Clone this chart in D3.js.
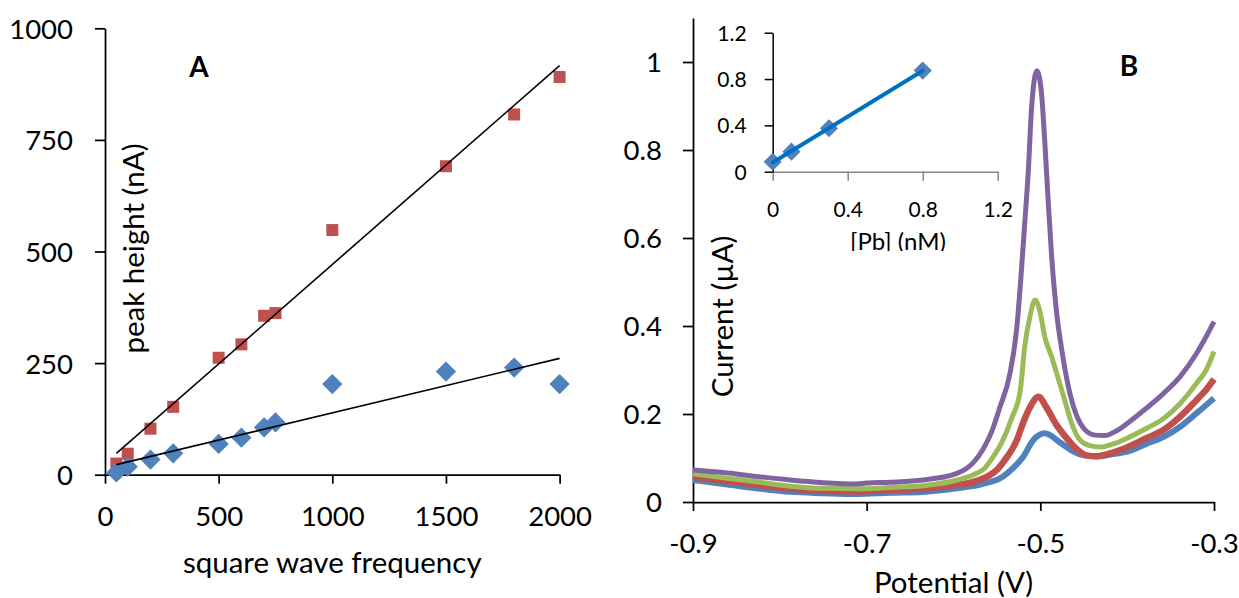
<!DOCTYPE html>
<html>
<head>
<meta charset="utf-8">
<script src="https://cdn.jsdelivr.net/npm/d3@7"></script>
<style>
  html, body { margin: 0; padding: 0; background: #fff; }
  svg { display: block; }
</style>
</head>
<body>
<div id="chart"></div>
<script>
// Panel A - peak height (nA) vs square wave frequency
const frequencies = [50, 100, 200, 300, 500, 600, 700, 750, 1000, 1500, 1800, 2000];
const squarePeaks = [25, 47, 103, 152, 262, 292, 356, 362, 548, 691, 807, 891];
const diamondPeaks = [5, 18, 34, 48, 69, 83, 106, 117, 203, 231, 240, 203];
const freqTicks = [0, 500, 1000, 1500, 2000];
const heightTicks = [0, 250, 500, 750, 1000];

// Panel B - voltammograms, [potential (V), current (uA)]
const scanBlue = [[-0.900, 0.050], [-0.865, 0.041], [-0.827, 0.031], [-0.788, 0.023], [-0.750, 0.020], [-0.712, 0.018], [-0.673, 0.021], [-0.635, 0.023], [-0.596, 0.031], [-0.566, 0.041], [-0.543, 0.058], [-0.530, 0.080], [-0.520, 0.102], [-0.508, 0.141], [-0.495, 0.156], [-0.477, 0.135], [-0.462, 0.115], [-0.450, 0.106], [-0.435, 0.104], [-0.416, 0.109], [-0.397, 0.116], [-0.378, 0.132], [-0.358, 0.148], [-0.339, 0.171], [-0.320, 0.202], [-0.300, 0.236]];
const scanRed = [[-0.900, 0.058], [-0.865, 0.048], [-0.827, 0.039], [-0.788, 0.030], [-0.750, 0.025], [-0.712, 0.024], [-0.673, 0.027], [-0.635, 0.030], [-0.596, 0.039], [-0.577, 0.046], [-0.560, 0.059], [-0.550, 0.073], [-0.541, 0.095], [-0.527, 0.141], [-0.520, 0.179], [-0.512, 0.215], [-0.502, 0.239], [-0.493, 0.215], [-0.482, 0.177], [-0.470, 0.146], [-0.458, 0.120], [-0.447, 0.106], [-0.435, 0.104], [-0.416, 0.113], [-0.397, 0.127], [-0.378, 0.145], [-0.358, 0.164], [-0.339, 0.194], [-0.320, 0.232], [-0.309, 0.255], [-0.300, 0.279]];
const scanGreen = [[-0.900, 0.064], [-0.865, 0.055], [-0.827, 0.046], [-0.788, 0.036], [-0.750, 0.031], [-0.712, 0.030], [-0.673, 0.033], [-0.635, 0.037], [-0.596, 0.050], [-0.577, 0.062], [-0.565, 0.075], [-0.556, 0.098], [-0.545, 0.133], [-0.533, 0.190], [-0.523, 0.255], [-0.518, 0.353], [-0.512, 0.421], [-0.506, 0.459], [-0.500, 0.429], [-0.495, 0.376], [-0.487, 0.330], [-0.480, 0.285], [-0.472, 0.232], [-0.464, 0.179], [-0.454, 0.140], [-0.443, 0.128], [-0.431, 0.125], [-0.416, 0.132], [-0.397, 0.148], [-0.378, 0.167], [-0.358, 0.190], [-0.339, 0.224], [-0.320, 0.270], [-0.309, 0.300], [-0.300, 0.342]];
const scanPurple = [[-0.900, 0.073], [-0.865, 0.067], [-0.827, 0.058], [-0.788, 0.050], [-0.750, 0.044], [-0.712, 0.041], [-0.700, 0.043], [-0.673, 0.045], [-0.635, 0.050], [-0.596, 0.065], [-0.577, 0.090], [-0.566, 0.120], [-0.556, 0.160], [-0.547, 0.213], [-0.535, 0.292], [-0.527, 0.398], [-0.522, 0.520], [-0.518, 0.633], [-0.514, 0.747], [-0.510, 0.898], [-0.504, 0.980], [-0.499, 0.936], [-0.495, 0.823], [-0.491, 0.686], [-0.487, 0.558], [-0.482, 0.444], [-0.474, 0.330], [-0.466, 0.247], [-0.458, 0.195], [-0.449, 0.165], [-0.437, 0.152], [-0.426, 0.151], [-0.412, 0.162], [-0.397, 0.183], [-0.378, 0.213], [-0.358, 0.247], [-0.339, 0.285], [-0.320, 0.338], [-0.309, 0.376], [-0.300, 0.410]];
const potentialTicks = [-0.9, -0.7, -0.5, -0.3];
const currentTicks = [0, 0.2, 0.4, 0.6, 0.8, 1];

// Inset - calibration
const pbConc = [0, 0.1, 0.3, 0.8];
const pbPeak = [0.086, 0.173, 0.375, 0.873];
const insetTicks = [0, 0.4, 0.8, 1.2];

class PeakFigure {
    constructor() {
        const attrs = {
            container: '#chart',
            svgWidth: 1239,
            svgHeight: 598,
            fontFamily: 'Lato, "Open Sans", sans-serif',
            tickFontSize: 27.5,
            titleFontSize: 29.5,
            insetTickFontSize: 21,
            insetTitleFontSize: 24,
            red: '#C0504D',
            blue: '#4F81BD',
            green: '#9BBB59',
            purple: '#8064A2',
            insetLine: '#0070C0'
        };

        this.getState = () => attrs;
        this.setState = (d) => Object.assign(attrs, d);
    }

    render() {
        this.drawSvg();
        this.drawPanelA();
        this.drawPanelB();
        this.drawInset();
        return this;
    }

    drawSvg() {
        const { container, svgWidth, svgHeight } = this.getState();
        const svg = d3.select(container)
            .append('svg')
            .attr('width', svgWidth)
            .attr('height', svgHeight);
        this.setState({ svg });
    }

    // least squares fit, used for the trend lines
    fit(xs, ys) {
        const mx = d3.mean(xs), my = d3.mean(ys);
        let sxy = 0, sxx = 0;
        xs.forEach((x, i) => {
            sxy += (x - mx) * (ys[i] - my);
            sxx += (x - mx) * (x - mx);
        });
        const slope = sxy / sxx;
        return { slope, intercept: my - slope * mx };
    }

    styleAxis(g, fontSize, width) {
        const { fontFamily } = this.getState();
        g.attr('color', '#000')
            .attr('font-family', fontFamily)
            .attr('font-size', fontSize);
        g.selectAll('path, line').attr('stroke-width', width);
        g.selectAll('text').attr('fill', '#000');
        return g;
    }

    // excel style diamond = square turned 45 degrees
    diamond(size) {
        return d3.symbol().type(d3.symbolSquare).size(size)();
    }

    drawPanelA() {
        const { svg, fontFamily, tickFontSize, titleFontSize, red, blue } = this.getState();

        const x = d3.scaleLinear().domain([0, 2000]).range([105, 559.6]);
        const y = d3.scaleLinear().domain([0, 1000]).range([474.7, 28.3]);

        const chart = svg.append('g').attr('class', 'panel-a');

        const yAxis = chart.append('g')
            .attr('transform', `translate(${x(0)},0)`)
            .call(d3.axisLeft(y).tickValues(heightTicks).tickSize(10).tickSizeOuter(0).tickPadding(22).tickFormat(d => String(d)));
        this.styleAxis(yAxis, tickFontSize, 1.75);
        yAxis.selectAll('text').attr('dy', '0.36em');

        const xAxis = chart.append('g')
            .attr('transform', `translate(0,${y(0)})`)
            .call(d3.axisBottom(x).tickValues(freqTicks).tickSize(9).tickSizeOuter(0).tickPadding(23).tickFormat(d => String(d)));
        this.styleAxis(xAxis, tickFontSize, 1.75);

        chart.selectAll('.sq')
            .data(frequencies)
            .enter()
            .append('path')
            .attr('class', 'sq')
            .attr('d', d3.symbol().type(d3.symbolSquare).size(144)())
            .attr('transform', (d, i) => `translate(${x(d)},${y(squarePeaks[i])})`)
            .attr('fill', red);

        chart.selectAll('.dm')
            .data(frequencies)
            .enter()
            .append('path')
            .attr('class', 'dm')
            .attr('d', this.diamond(205))
            .attr('transform', (d, i) => `translate(${x(d)},${y(diamondPeaks[i])}) rotate(45)`)
            .attr('fill', blue);

        // trend lines, drawn over the markers
        const xMin = d3.min(frequencies), xMax = d3.max(frequencies);
        [squarePeaks, diamondPeaks].forEach(vals => {
            const f = this.fit(frequencies, vals);
            chart.append('line')
                .attr('x1', x(xMin)).attr('y1', y(f.intercept + f.slope * xMin))
                .attr('x2', x(xMax)).attr('y2', y(f.intercept + f.slope * xMax))
                .attr('stroke', '#000')
                .attr('stroke-width', 1.6);
        });

        chart.append('text')
            .attr('x', (x.range()[0] + x.range()[1]) / 2)
            .attr('y', 573)
            .attr('text-anchor', 'middle')
            .attr('font-family', fontFamily)
            .attr('font-size', titleFontSize)
            .text('square wave frequency');

        chart.append('text')
            .attr('transform', 'translate(144,248.5) rotate(-90)')
            .attr('text-anchor', 'middle')
            .attr('font-family', fontFamily)
            .attr('font-size', titleFontSize)
            .text('peak height (nA)');

        chart.append('text')
            .attr('x', 199)
            .attr('y', 76.7)
            .attr('text-anchor', 'middle')
            .attr('font-family', fontFamily)
            .attr('font-weight', 'bold')
            .attr('font-size', 28)
            .text('A');
    }

    drawPanelB() {
        const { svg, fontFamily, tickFontSize, titleFontSize, red, blue, green, purple } = this.getState();

        const x = d3.scaleLinear().domain([-0.9, -0.3]).range([693, 1214]);
        const y = d3.scaleLinear().domain([0, 1.1]).range([502, 18]);

        const chart = svg.append('g').attr('class', 'panel-b');

        const yAxis = chart.append('g')
            .attr('transform', `translate(${x(-0.9)},0)`)
            .call(d3.axisLeft(y).tickValues(currentTicks).tickSize(10).tickSizeOuter(0).tickPadding(21).tickFormat(d => String(d)));
        this.styleAxis(yAxis, tickFontSize, 1.75);
        yAxis.selectAll('text').attr('dy', '0.36em');

        const xAxis = chart.append('g')
            .attr('transform', `translate(0,${y(0)})`)
            .call(d3.axisBottom(x).tickValues(potentialTicks).tickSize(9).tickSizeOuter(0).tickPadding(22).tickFormat(d => String(d)));
        this.styleAxis(xAxis, tickFontSize, 1.75);

        const line = d3.line()
            .x(d => x(d[0]))
            .y(d => y(d[1]))
            .curve(d3.curveMonotoneX);

        const scans = [
            { data: scanBlue, color: blue, width: 6 },
            { data: scanRed, color: red, width: 6.5 },
            { data: scanGreen, color: green, width: 5 },
            { data: scanPurple, color: purple, width: 5 }
        ];

        chart.selectAll('.scan')
            .data(scans)
            .enter()
            .append('path')
            .attr('class', 'scan')
            .attr('d', d => line(d.data))
            .attr('fill', 'none')
            .attr('stroke', d => d.color)
            .attr('stroke-width', d => d.width)
            .attr('stroke-linejoin', 'round');

        chart.append('text')
            .attr('x', (x.range()[0] + x.range()[1]) / 2)
            .attr('y', 593)
            .attr('text-anchor', 'middle')
            .attr('font-family', fontFamily)
            .attr('font-size', titleFontSize)
            .text('Potential (V)');

        chart.append('text')
            .attr('transform', 'translate(732.5,316.5) rotate(-90)')
            .attr('text-anchor', 'middle')
            .attr('font-family', fontFamily)
            .attr('font-size', titleFontSize)
            .text('Current (µA)');

        chart.append('text')
            .attr('x', 1129)
            .attr('y', 76)
            .attr('text-anchor', 'middle')
            .attr('font-family', fontFamily)
            .attr('font-weight', 'bold')
            .attr('font-size', 28)
            .text('B');
    }

    drawInset() {
        const { svg, fontFamily, insetTickFontSize, insetTitleFontSize, blue, insetLine } = this.getState();

        const x = d3.scaleLinear().domain([0, 1.2]).range([772.7, 997.7]);
        const y = d3.scaleLinear().domain([0, 1.2]).range([171.7, 32.7]);

        svg.append('defs')
            .append('clipPath')
            .attr('id', 'inset-clip')
            .append('rect')
            .attr('x', 700).attr('y', 0)
            .attr('width', 320).attr('height', 251);

        const chart = svg.append('g')
            .attr('class', 'inset')
            .attr('clip-path', 'url(#inset-clip)');

        const xAxis = chart.append('g')
            .attr('transform', `translate(0,${y(0)})`)
            .call(d3.axisBottom(x).tickValues(insetTicks).tickSize(9).tickSizeOuter(0).tickPadding(21).tickFormat(d => String(d)));
        this.styleAxis(xAxis, insetTickFontSize, 1.5);
        xAxis.selectAll('path, line').attr('stroke', '#868686');

        const yAxis = chart.append('g')
            .attr('transform', `translate(${x(0)},0)`)
            .call(d3.axisLeft(y).tickValues(insetTicks).tickSize(8).tickSizeOuter(0).tickPadding(18).tickFormat(d => String(d)));
        this.styleAxis(yAxis, insetTickFontSize, 1.5);
        yAxis.selectAll('text').attr('dy', '0.36em');

        chart.selectAll('.pt')
            .data(pbConc)
            .enter()
            .append('path')
            .attr('class', 'pt')
            .attr('d', this.diamond(165))
            .attr('transform', (d, i) => `translate(${x(d)},${y(pbPeak[i])}) rotate(45)`)
            .attr('fill', blue);

        const f = this.fit(pbConc, pbPeak);
        const c0 = d3.min(pbConc), c1 = d3.max(pbConc);
        chart.append('line')
            .attr('x1', x(c0)).attr('y1', y(f.intercept + f.slope * c0))
            .attr('x2', x(c1)).attr('y2', y(f.intercept + f.slope * c1))
            .attr('stroke', insetLine)
            .attr('stroke-width', 4)
            .attr('stroke-linecap', 'round');

        chart.append('text')
            .attr('x', 898)
            .attr('y', 250)
            .attr('text-anchor', 'middle')
            .attr('font-family', fontFamily)
            .attr('font-size', insetTitleFontSize)
            .text('[Pb] (nM)');
    }
}

new PeakFigure().render();
</script>
</body>
</html>
